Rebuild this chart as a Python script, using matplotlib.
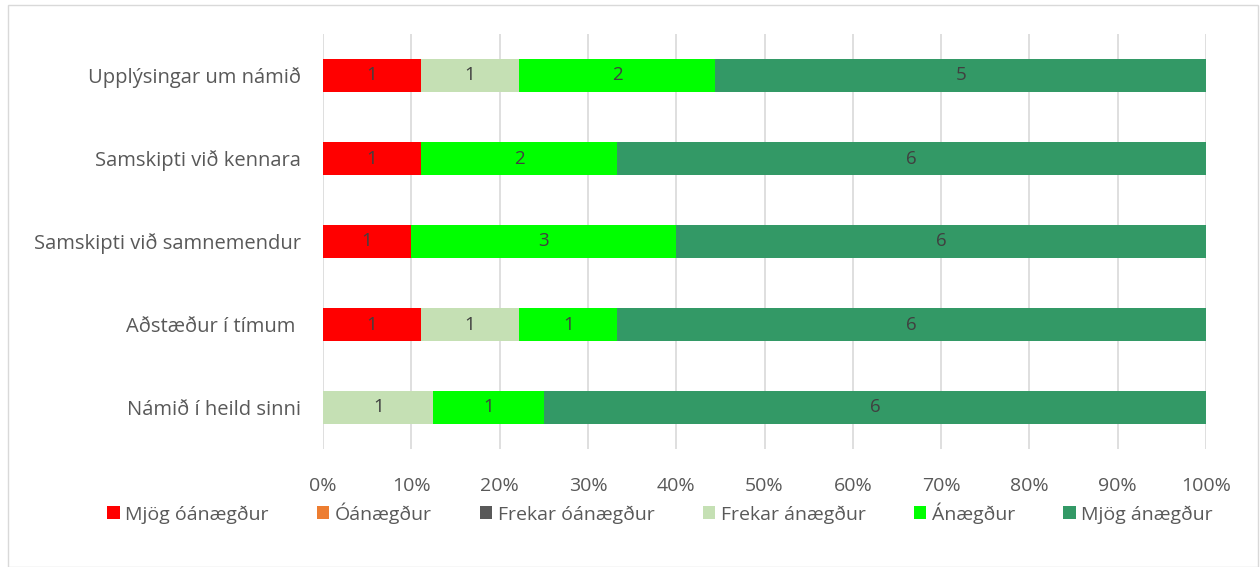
import matplotlib
matplotlib.use("Agg")
import matplotlib.pyplot as plt
import numpy as np

categories = ["Upplýsingar um námið", "Samskipti við kennara", "Samskipti við samnemendur",
              "Aðstæður í tímum ", "Námið í heild sinni"]
series_names = ["Mjög óánægður", "Óánægður", "Frekar óánægður", "Frekar ánægður", "Ánægður", "Mjög ánægður"]
mjog_oanaegdur = [1, 1, 1, 1, 0]
oanaegdur = [0, 0, 0, 0, 0]
frekar_oanaegdur = [0, 0, 0, 0, 0]
frekar_anaegdur = [1, 0, 0, 1, 1]
anaegdur = [2, 2, 3, 1, 1]
mjog_anaegdur = [5, 6, 6, 6, 6]
colors = ["#FF0000", "#ED7D31", "#595959", "#C5E0B4", "#00FF00", "#339966"]
x_ticks = [0, 10, 20, 30, 40, 50, 60, 70, 80, 90, 100]

plt.rcParams['font.family'] = ['Open Sans', 'DejaVu Sans']
fig = plt.figure(figsize=(12.6, 5.67), dpi=100)
ax = fig.add_axes([323/1260, 1-449/567, (1206-323)/1260, (449-34)/567])

data = np.array([mjog_oanaegdur, oanaegdur, frekar_oanaegdur, frekar_anaegdur, anaegdur, mjog_anaegdur], dtype=float)
totals = data.sum(axis=0)
pct = data / totals * 100
y = np.arange(len(categories))
left = np.zeros(len(categories))
for i, name in enumerate(series_names):
    ax.barh(y, pct[i], left=left, height=0.4, color=colors[i], label=name, zorder=3)
    for j in range(len(categories)):
        if data[i, j] > 0:
            ax.text(left[j] + pct[i, j] / 2, y[j], f"{int(data[i, j])}", ha="center", va="center",
                    fontsize=13.5, color="#404040", zorder=4)
    left += pct[i]

ax.set_xlim(0, 100)
ax.set_ylim(len(categories) - 0.5, -0.5)
ax.set_yticks(y)
ax.set_yticklabels(categories, fontsize=14.5, color="#595959")
ax.set_xticks(x_ticks)
ax.set_xticklabels([f"{t}%" for t in x_ticks], fontsize=14, color="#595959")
ax.tick_params(axis="both", length=0)
ax.tick_params(axis="x", pad=20)
ax.tick_params(axis="y", pad=16)
ax.xaxis.grid(True, color="#D9D9D9", linewidth=1.2, zorder=0)
for s in ax.spines.values():
    s.set_visible(False)

leg = fig.legend(loc="center", bbox_to_anchor=(660/1260, 1-513/567), ncol=6, frameon=False,
                 fontsize=14, handlelength=0.65, handleheight=0.65, columnspacing=2.45, handletextpad=0.3)
for t in leg.get_texts():
    t.set_color("#595959")

fig.patches.append(plt.Rectangle((8/1260, 0), 1250/1260, 1-5/567, transform=fig.transFigure,
                                 fill=False, edgecolor="#D9D9D9", linewidth=1))
fig.savefig("out.png", dpi=100)
